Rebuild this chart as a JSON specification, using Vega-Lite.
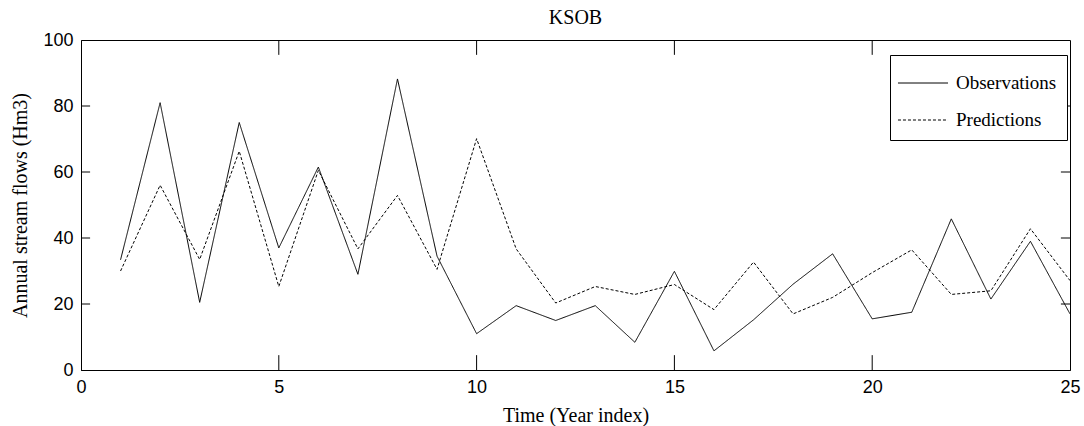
{
  "$schema": "https://vega.github.io/schema/vega-lite/v6.json",
  "width": 989,
  "height": 330,
  "autosize": {"type": "none"},
  "padding": {"left": 81, "top": 40, "right": 14, "bottom": 56},
  "background": "white",
  "title": {"text": "KSOB", "font": "Liberation Serif", "fontSize": 20, "fontWeight": "normal", "color": "black", "offset": 3},
  "config": {
    "view": {"stroke": "black", "strokeWidth": 1},
    "axis": {
      "grid": false,
      "labelFlush": false,
      "domainColor": "black",
      "domainWidth": 1,
      "tickColor": "black",
      "tickWidth": 1,
      "labelFont": "Liberation Sans",
      "labelFontSize": 18,
      "labelColor": "black",
      "titleFont": "Liberation Serif",
      "titleFontSize": 20,
      "titleFontWeight": "normal",
      "titleColor": "black"
    }
  },
  "datasets": {
    "xticks": [{"t": 5}, {"t": 10}, {"t": 15}, {"t": 20}],
    "yticks": [{"v": 20}, {"v": 40}, {"v": 60}, {"v": 80}]
  },
  "data": {
    "values": [
      {"t": 1, "series": "Observations", "value": 33.4},
      {"t": 2, "series": "Observations", "value": 81},
      {"t": 3, "series": "Observations", "value": 20.5},
      {"t": 4, "series": "Observations", "value": 75},
      {"t": 5, "series": "Observations", "value": 37},
      {"t": 6, "series": "Observations", "value": 61.5},
      {"t": 7, "series": "Observations", "value": 29},
      {"t": 8, "series": "Observations", "value": 88.2},
      {"t": 9, "series": "Observations", "value": 34.5},
      {"t": 10, "series": "Observations", "value": 11},
      {"t": 11, "series": "Observations", "value": 19.5},
      {"t": 12, "series": "Observations", "value": 15},
      {"t": 13, "series": "Observations", "value": 19.5},
      {"t": 14, "series": "Observations", "value": 8.4},
      {"t": 15, "series": "Observations", "value": 29.9},
      {"t": 16, "series": "Observations", "value": 5.8},
      {"t": 17, "series": "Observations", "value": 15.2},
      {"t": 18, "series": "Observations", "value": 26},
      {"t": 19, "series": "Observations", "value": 35.2},
      {"t": 20, "series": "Observations", "value": 15.5},
      {"t": 21, "series": "Observations", "value": 17.5},
      {"t": 22, "series": "Observations", "value": 45.8},
      {"t": 23, "series": "Observations", "value": 21.5},
      {"t": 24, "series": "Observations", "value": 39},
      {"t": 25, "series": "Observations", "value": 17},
      {"t": 1, "series": "Predictions", "value": 30},
      {"t": 2, "series": "Predictions", "value": 56},
      {"t": 3, "series": "Predictions", "value": 33.5},
      {"t": 4, "series": "Predictions", "value": 66.3},
      {"t": 5, "series": "Predictions", "value": 25.3},
      {"t": 6, "series": "Predictions", "value": 60.5},
      {"t": 7, "series": "Predictions", "value": 36.7},
      {"t": 8, "series": "Predictions", "value": 52.9},
      {"t": 9, "series": "Predictions", "value": 30.5},
      {"t": 10, "series": "Predictions", "value": 70.1},
      {"t": 11, "series": "Predictions", "value": 36.7},
      {"t": 12, "series": "Predictions", "value": 20.3},
      {"t": 13, "series": "Predictions", "value": 25.3},
      {"t": 14, "series": "Predictions", "value": 22.9},
      {"t": 15, "series": "Predictions", "value": 25.9},
      {"t": 16, "series": "Predictions", "value": 18.3},
      {"t": 17, "series": "Predictions", "value": 32.7},
      {"t": 18, "series": "Predictions", "value": 17},
      {"t": 19, "series": "Predictions", "value": 22},
      {"t": 20, "series": "Predictions", "value": 29.5},
      {"t": 21, "series": "Predictions", "value": 36.4},
      {"t": 22, "series": "Predictions", "value": 22.9},
      {"t": 23, "series": "Predictions", "value": 24},
      {"t": 24, "series": "Predictions", "value": 42.8},
      {"t": 25, "series": "Predictions", "value": 27.1}
    ]
  },
  "layer": [
    {
      "mark": {"type": "line", "color": "black", "strokeWidth": 1},
      "encoding": {
        "x": {
          "field": "t", "type": "quantitative",
          "scale": {"domain": [0, 25], "nice": false, "zero": false},
          "axis": {"orient": "bottom", "values": [0, 5, 10, 15, 20, 25], "ticks": false, "tickSize": 0, "labelPadding": 8, "title": "Time (Year index)", "titlePadding": 9}
        },
        "y": {
          "field": "value", "type": "quantitative",
          "scale": {"domain": [0, 100], "nice": false},
          "axis": {"orient": "left", "values": [0, 20, 40, 60, 80, 100], "ticks": false, "tickSize": 0, "labelPadding": 8, "title": "Annual stream flows (Hm3)", "titlePadding": 12}
        },
        "strokeDash": {
          "field": "series", "type": "nominal",
          "scale": {"domain": ["Observations", "Predictions"], "range": [[1, 0], [3, 2]]},
          "legend": {
            "orient": "none", "legendX": 809, "legendY": 15, "title": null,
            "symbolType": "M-1.43,0H1.43", "symbolSize": 1225, "symbolStrokeWidth": 1, "symbolStrokeColor": "black", "symbolFillColor": "transparent", "symbolOffset": 5,
            "labelFont": "Liberation Serif", "labelFontSize": 19, "labelColor": "black", "labelLimit": 300,
            "labelOffset": 15, "strokeColor": "black", "fillColor": "white", "padding": 10, "rowPadding": 9, "cornerRadius": 0
          }
        }
      }
    },
    {
      "data": {"name": "xticks"},
      "mark": {"type": "rule", "color": "black", "strokeWidth": 1},
      "encoding": {
        "x": {"field": "t", "type": "quantitative", "axis": null},
        "y": {"datum": 0, "axis": null},
        "y2": {"datum": 4.5}
      }
    },
    {
      "data": {"name": "xticks"},
      "mark": {"type": "rule", "color": "black", "strokeWidth": 1},
      "encoding": {
        "x": {"field": "t", "type": "quantitative", "axis": null},
        "y": {"datum": 100, "axis": null},
        "y2": {"datum": 95.5}
      }
    },
    {
      "data": {"name": "yticks"},
      "mark": {"type": "rule", "color": "black", "strokeWidth": 1},
      "encoding": {
        "y": {"field": "v", "type": "quantitative", "axis": null},
        "x": {"datum": 0, "axis": null},
        "x2": {"datum": 0.23}
      }
    },
    {
      "data": {"name": "yticks"},
      "mark": {"type": "rule", "color": "black", "strokeWidth": 1},
      "encoding": {
        "y": {"field": "v", "type": "quantitative", "axis": null},
        "x": {"datum": 25, "axis": null},
        "x2": {"datum": 24.77}
      }
    }
  ],
  "resolve": {"axis": {"x": "independent", "y": "independent"}}
}
